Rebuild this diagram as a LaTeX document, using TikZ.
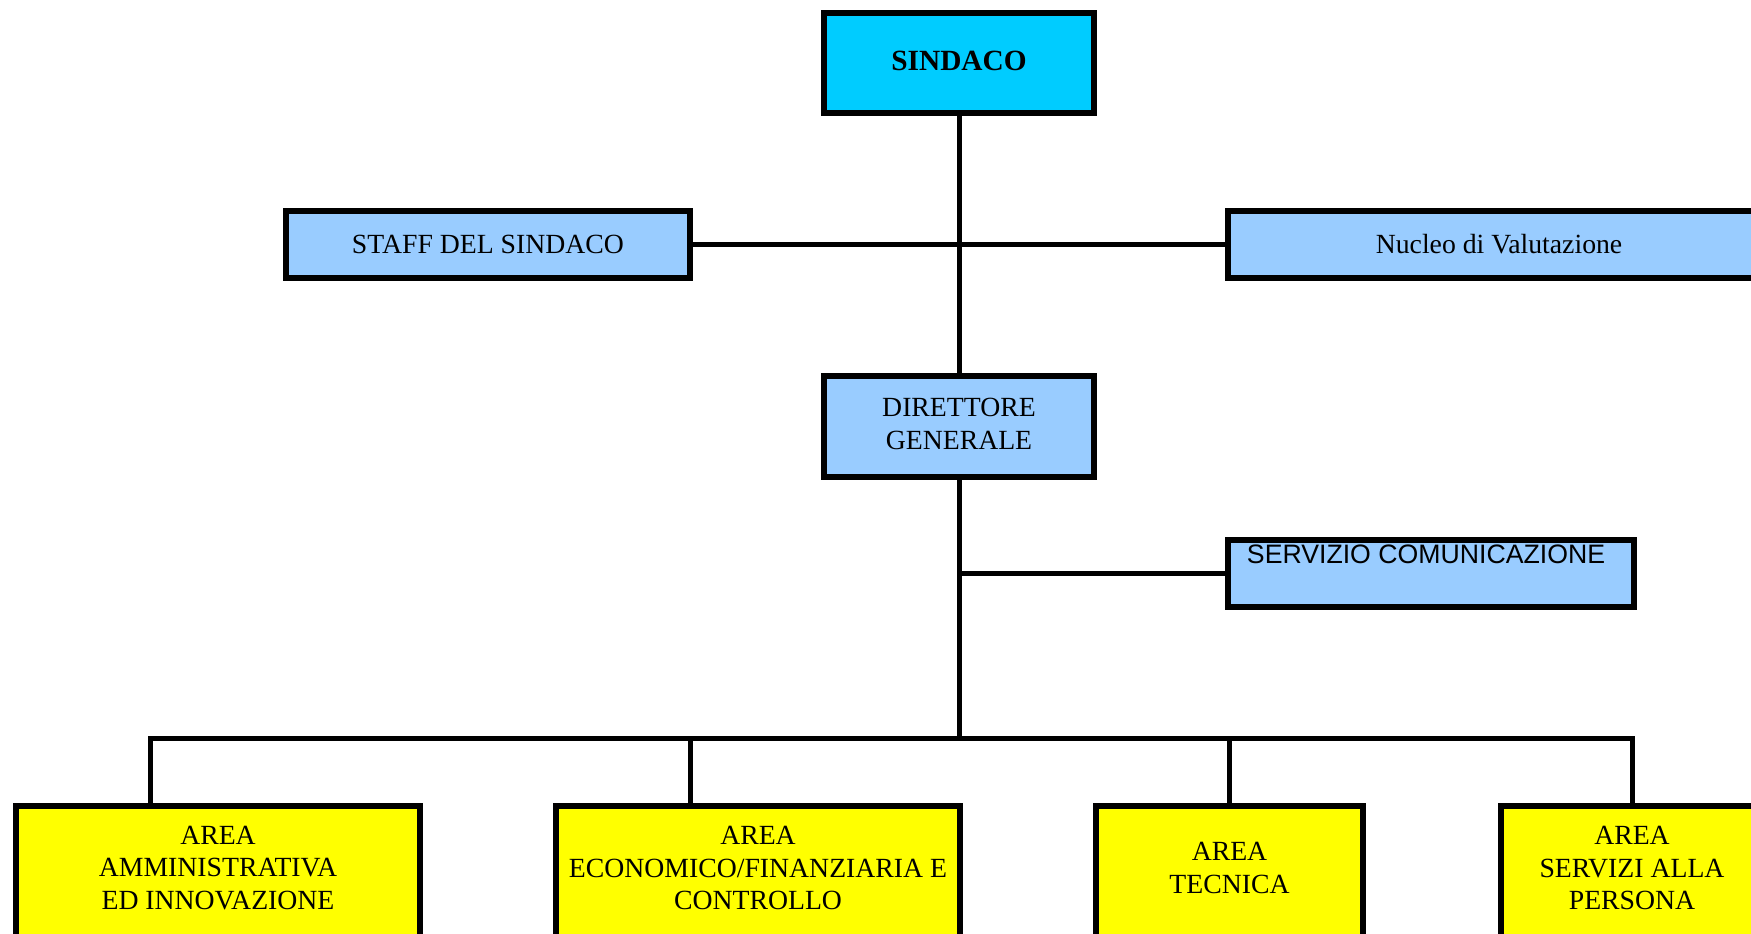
\documentclass[tikz,border=0pt]{standalone}
\usepackage{fontspec}
\setmainfont{Liberation Serif}
\newfontfamily\sansarial{Liberation Sans}
\definecolor{topcyan}{HTML}{00CCFF}
\definecolor{lightblue}{HTML}{99CCFF}
\definecolor{areayellow}{HTML}{FFFF00}
\begin{document}
\begin{tikzpicture}[x=0.75pt,y=-0.75pt,
  box/.style={draw=black, line width=4.5pt, inner sep=0pt, align=center,
    font=\fontsize{20.8}{24}\selectfont},
  bluebox/.style={box, fill=lightblue},
  areabox/.style={box, fill=areayellow, minimum height=115.5pt},
  lbl/.style={align=center, inner sep=0pt, font=\fontsize{20.8}{24.4}\selectfont},
  conn/.style={draw=black, line width=3.75pt}
]
\useasboundingbox (0,0) rectangle (1751,934);
\clip (0,0) rectangle (1751,934);
\fill[white] (0,0) rectangle (1751,934);

\node[box, fill=topcyan, minimum width=202.5pt, minimum height=75pt] (sind) at (959,63) {};
\node[inner sep=0pt, font=\fontsize{22}{24}\selectfont\bfseries] (sindtext) at ([yshift=1.8pt]sind.center) {SINDACO};
\node[bluebox, minimum width=303pt, minimum height=50.25pt] (staff) at (488,244.5) {STAFF DEL SINDACO};
\node[bluebox, minimum width=406.5pt, minimum height=50.25pt] (nucleo) at (1499,244.5) {Nucleo di Valutazione};
\node[bluebox, minimum width=202.5pt, minimum height=75.75pt,
  label={[lbl, yshift=2pt]center:{DIRETTORE\\GENERALE}}] (dg) at (959,426.5) {};
\node[bluebox, minimum width=304.5pt, minimum height=50.25pt,
  label={[inner sep=0pt, anchor=north, yshift=-5.5pt, xshift=-3.75pt,
    font=\sansarial\fontsize{20}{24}\selectfont]north:SERVIZIO COMUNICAZIONE}] (serv) at (1431,573.5) {};

\node[areabox, minimum width=303pt,
  label={[lbl, yshift=11.25pt]center:{AREA\\AMMINISTRATIVA\\ED INNOVAZIONE}}] (a1) at (218,883) {};
\node[areabox, minimum width=303pt,
  label={[lbl, yshift=11.25pt]center:{AREA\\ECONOMICO/FINANZIARIA E\\CONTROLLO}}] (a2) at (758,883) {};
\node[areabox, minimum width=200.25pt,
  label={[lbl, yshift=11.25pt]center:{AREA\\TECNICA}}] (a3) at (1229.5,883) {};
\node[areabox, minimum width=196.5pt,
  label={[lbl, yshift=11.25pt]center:{AREA\\SERVIZI ALLA\\PERSONA}}] (a4) at (1632,883) {};

\coordinate (bus) at (959,738);
\coordinate (d1) at ([xshift=103pt]a1.north west);
\coordinate (d2) at ([xshift=103pt]a2.north west);

\draw[conn] (sind.south) -- (dg.north);
\draw[conn] (staff.east) -- (nucleo.west);
\draw[conn] (dg.south) -- (bus);
\draw[conn] (serv.west -| dg.south) -- (serv.west);
\draw[conn] (d1) -- (d1 |- bus) -- (a4.north |- bus) -- (a4.north);
\draw[conn] (d2) -- (d2 |- bus);
\draw[conn] (a3.north) -- (a3.north |- bus);
\end{tikzpicture}
\end{document}
